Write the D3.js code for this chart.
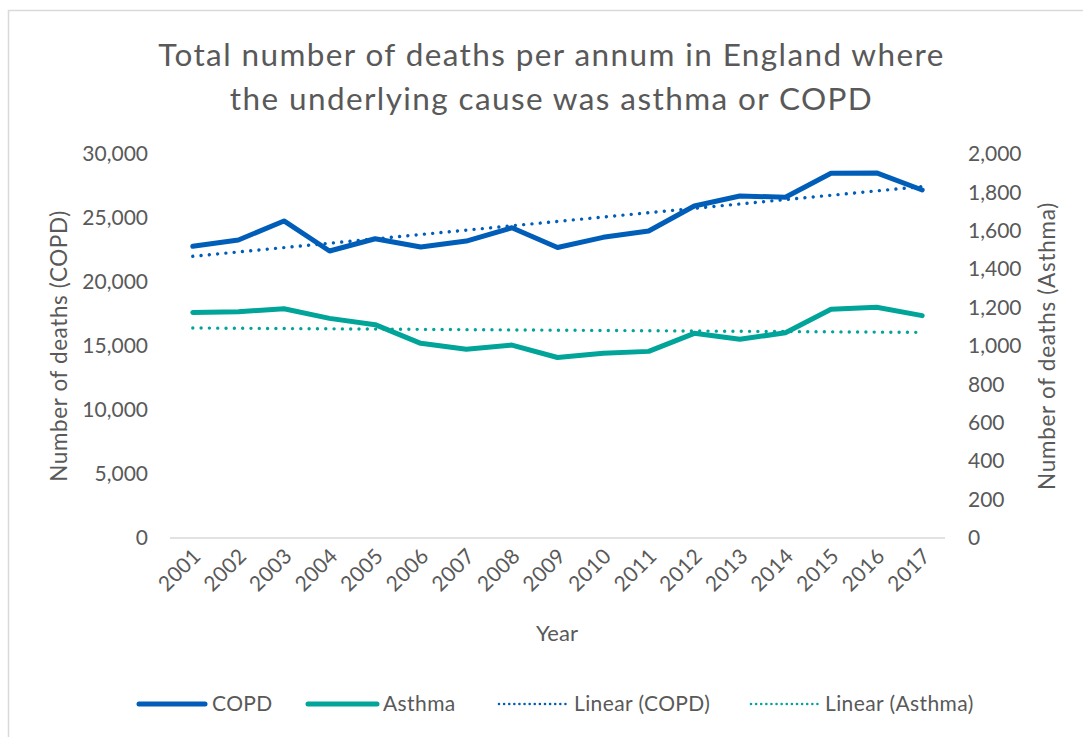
<!DOCTYPE html>
<html>
<head>
<meta charset="utf-8">
<script src="https://cdn.jsdelivr.net/npm/d3@7"></script>
<style>
  html, body { margin: 0; padding: 0; background: #ffffff; }
  svg { display: block; }
  text { font-family: Lato, "Open Sans", sans-serif; fill: #595959; }
</style>
</head>
<body>
<svg id="chart" width="1083" height="737"></svg>
<script>
// Deaths per year, England
const years = ["2001","2002","2003","2004","2005","2006","2007","2008","2009",
               "2010","2011","2012","2013","2014","2015","2016","2017"];
const copdDeaths = [22790, 23280, 24770, 22420, 23380, 22730, 23200, 24240, 22700,
                    23490, 23980, 25940, 26720, 26620, 28490, 28520, 27190];
const asthmaDeaths = [1175, 1179, 1194, 1144, 1111, 1014, 983, 1005, 940,
                      962, 972, 1066, 1035, 1069, 1191, 1202, 1158];
const leftTicks = [0, 5000, 10000, 15000, 20000, 25000, 30000];
const rightTicks = [0, 200, 400, 600, 800, 1000, 1200, 1400, 1600, 1800, 2000];
const titleLines = ["Total number of deaths per annum in England where",
                    "the underlying cause was asthma or COPD"];

const COPD_COLOR = "#005eb8";
const ASTHMA_COLOR = "#00a499";

const svg = d3.select("#chart");
const plot = { left: 170, right: 945, top: 154, bottom: 538 };

// Outer frame of the chart area
svg.append("rect")
  .attr("x", 8.5).attr("y", 10.5)
  .attr("width", 1100).attr("height", 800)
  .attr("fill", "#ffffff")
  .attr("stroke", "#d9d9d9").attr("stroke-width", 1.5);

const x = d3.scaleBand().domain(years).range([plot.left, plot.right]);
const xc = d => x(d) + x.bandwidth() / 2;
const yL = d3.scaleLinear().domain([0, 30000]).range([plot.bottom, plot.top]);
const yR = d3.scaleLinear().domain([0, 2000]).range([plot.bottom, plot.top]);

// Title
svg.append("text")
  .attr("x", 551.5).attr("y", 66)
  .attr("text-anchor", "middle")
  .style("font-size", "31.5px")
  .style("letter-spacing", "1.4px")
  .selectAll("tspan").data(titleLines).join("tspan")
  .attr("x", 551.5)
  .attr("dy", (d, i) => i === 0 ? 0 : 44)
  .text(d => d);

// Left axis
const leftAxis = svg.append("g")
  .attr("transform", `translate(${plot.left},0)`)
  .call(d3.axisLeft(yL).tickValues(leftTicks).tickSize(0).tickPadding(22)
    .tickFormat(d3.format(",")));
leftAxis.select(".domain").remove();
leftAxis.selectAll("text").style("font-size", "21px").style("fill", "#595959");

// Right axis
const rightAxis = svg.append("g")
  .attr("transform", `translate(${plot.right},0)`)
  .call(d3.axisRight(yR).tickValues(rightTicks).tickSize(0).tickPadding(23)
    .tickFormat(d3.format(",")));
rightAxis.select(".domain").remove();
rightAxis.selectAll("text").style("font-size", "21px").style("fill", "#595959");

// Category axis
svg.append("line")
  .attr("x1", plot.left).attr("x2", plot.right)
  .attr("y1", plot.bottom).attr("y2", plot.bottom)
  .attr("stroke", "#d9d9d9").attr("stroke-width", 1.5);

svg.append("g").selectAll("text").data(years).join("text")
  .attr("transform", d => `translate(${xc(d) - 1},${plot.bottom + 9}) rotate(-45)`)
  .attr("text-anchor", "end")
  .attr("dy", "0.7em")
  .style("font-size", "21px")
  .style("letter-spacing", "0.3px")
  .text(d => d);

// Axis titles
svg.append("text")
  .attr("transform", `translate(67,${(plot.top + plot.bottom) / 2}) rotate(-90)`)
  .attr("text-anchor", "middle")
  .style("font-size", "22.5px")
  .style("letter-spacing", "0.6px")
  .text("Number of deaths (COPD)");

svg.append("text")
  .attr("transform", `translate(1055,${(plot.top + plot.bottom) / 2}) rotate(-90)`)
  .attr("text-anchor", "middle")
  .style("font-size", "22.5px")
  .style("letter-spacing", "0.7px")
  .text("Number of deaths (Asthma)");

svg.append("text")
  .attr("x", 557).attr("y", 641)
  .attr("text-anchor", "middle")
  .style("font-size", "22px")
  .text("Year");

// Least-squares trend over the year index
function linearFit(values) {
  const n = values.length;
  const mx = (n - 1) / 2;
  const my = d3.mean(values);
  let sxy = 0, sxx = 0;
  values.forEach((v, i) => { sxy += (i - mx) * (v - my); sxx += (i - mx) * (i - mx); });
  const slope = sxy / sxx;
  return values.map((v, i) => my + slope * (i - mx));
}

const copdTrend = linearFit(copdDeaths);
const asthmaTrend = linearFit(asthmaDeaths);

const lineL = d3.line().x((d, i) => xc(years[i])).y(d => yL(d));
const lineR = d3.line().x((d, i) => xc(years[i])).y(d => yR(d));

const series = svg.append("g");

series.append("path").datum(copdTrend)
  .attr("d", lineL).attr("fill", "none")
  .attr("stroke", COPD_COLOR).attr("stroke-width", 3.4)
  .attr("stroke-linecap", "round").attr("stroke-dasharray", "0.01 8.3");

series.append("path").datum(asthmaTrend)
  .attr("d", lineR).attr("fill", "none")
  .attr("stroke", ASTHMA_COLOR).attr("stroke-width", 3.4)
  .attr("stroke-linecap", "round").attr("stroke-dasharray", "0.01 8.3");

series.append("path").datum(asthmaDeaths)
  .attr("d", lineR).attr("fill", "none")
  .attr("stroke", ASTHMA_COLOR).attr("stroke-width", 5)
  .attr("stroke-linejoin", "round").attr("stroke-linecap", "round");

series.append("path").datum(copdDeaths)
  .attr("d", lineL).attr("fill", "none")
  .attr("stroke", COPD_COLOR).attr("stroke-width", 5)
  .attr("stroke-linejoin", "round").attr("stroke-linecap", "round");

// Legend
const legendItems = [
  { label: "COPD", color: COPD_COLOR, dotted: false, x0: 139, x1: 205, tx: 212 },
  { label: "Asthma", color: ASTHMA_COLOR, dotted: false, x0: 308, x1: 377, tx: 383 },
  { label: "Linear (COPD)", color: COPD_COLOR, dotted: true, x0: 499, x1: 569, tx: 574 },
  { label: "Linear (Asthma)", color: ASTHMA_COLOR, dotted: true, x0: 751, x1: 820, tx: 825 }
];
const legendY = 704;
const legend = svg.append("g").selectAll("g").data(legendItems).join("g");
legend.append("line")
  .attr("x1", d => d.x0).attr("x2", d => d.x1)
  .attr("y1", legendY).attr("y2", legendY)
  .attr("stroke", d => d.color)
  .attr("stroke-width", d => d.dotted ? 2.6 : 5)
  .attr("stroke-linecap", "round")
  .attr("stroke-dasharray", d => d.dotted ? "0.01 5.1" : null);
legend.append("text")
  .attr("x", d => d.tx).attr("y", legendY)
  .attr("dy", "0.35em")
  .style("font-size", "21px")
  .style("letter-spacing", "0.4px")
  .text(d => d.label);
</script>
</body>
</html>
